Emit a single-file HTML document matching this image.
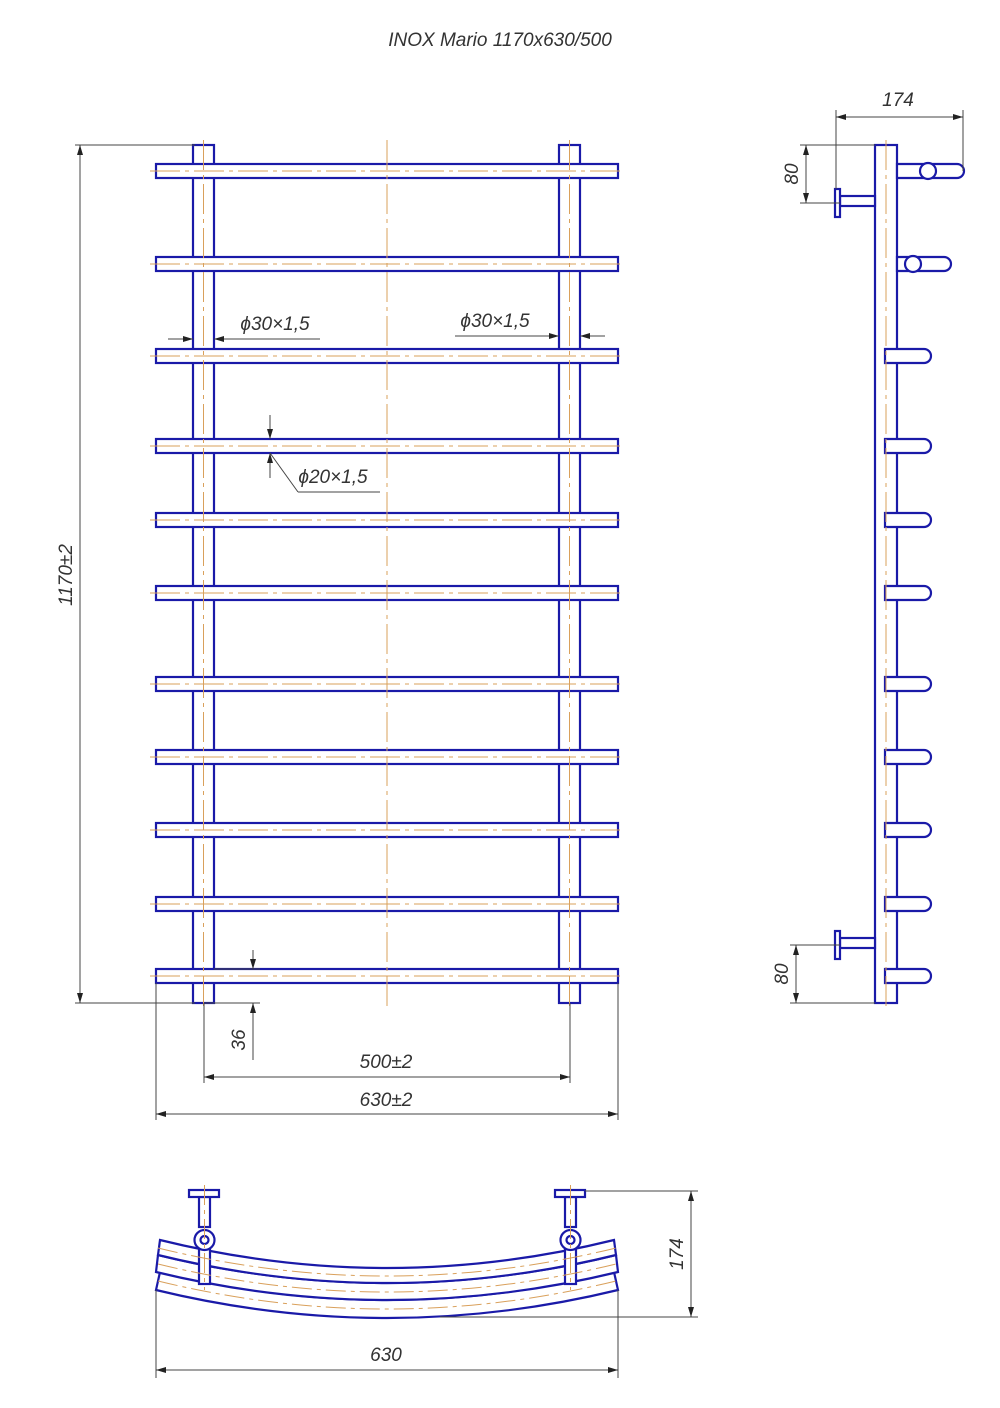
<!DOCTYPE html>
<html><head><meta charset="utf-8"><style>
html,body{margin:0;padding:0;background:#fff;}
svg{display:block;}
text{font-family:"Liberation Sans",sans-serif;font-style:italic;fill:#333;font-size:19px;}
</style></head><body>
<svg width="1000" height="1408" viewBox="0 0 1000 1408" xmlns="http://www.w3.org/2000/svg">
<defs>
<marker id="a" viewBox="0 0 10 6" refX="10" refY="3" markerWidth="10" markerHeight="6" orient="auto-start-reverse"><path d="M0,0L10,3L0,6z" fill="#222"/></marker>
</defs>
<text x="500" y="46" text-anchor="middle" font-size="18">INOX Mario 1170x630/500</text>

<g fill="#fff" stroke="#1a1aa8" stroke-width="2.2">
<rect x="193" y="145" width="21" height="858"/>
<rect x="559" y="145" width="21" height="858"/>
</g>
<g fill="#fff" stroke="#1a1aa8" stroke-width="2.2">
<rect x="156" y="164" width="462" height="14"/>
<rect x="156" y="257" width="462" height="14"/>
<rect x="156" y="349" width="462" height="14"/>
<rect x="156" y="439" width="462" height="14"/>
<rect x="156" y="513" width="462" height="14"/>
<rect x="156" y="586" width="462" height="14"/>
<rect x="156" y="677" width="462" height="14"/>
<rect x="156" y="750" width="462" height="14"/>
<rect x="156" y="823" width="462" height="14"/>
<rect x="156" y="897" width="462" height="14"/>
<rect x="156" y="969" width="462" height="14"/>
</g>
<g stroke="#d9a05b" stroke-width="1" stroke-dasharray="30,5,4,5" fill="none">
<line x1="203.5" y1="140" x2="203.5" y2="1008"/>
<line x1="569.5" y1="140" x2="569.5" y2="1008"/>
<line x1="387" y1="140" x2="387" y2="1008"/>
<line x1="150" y1="171" x2="625" y2="171"/><line x1="150" y1="264" x2="625" y2="264"/>
<line x1="150" y1="356" x2="625" y2="356"/><line x1="150" y1="446" x2="625" y2="446"/>
<line x1="150" y1="520" x2="625" y2="520"/><line x1="150" y1="593" x2="625" y2="593"/>
<line x1="150" y1="684" x2="625" y2="684"/><line x1="150" y1="757" x2="625" y2="757"/>
<line x1="150" y1="830" x2="625" y2="830"/><line x1="150" y1="904" x2="625" y2="904"/>
<line x1="150" y1="976" x2="625" y2="976"/>
</g>
<g stroke="#444" stroke-width="1" fill="none">
<line x1="75" y1="145" x2="195" y2="145"/><line x1="75" y1="1003" x2="195" y2="1003"/>
<line x1="80" y1="145" x2="80" y2="1003" marker-start="url(#a)" marker-end="url(#a)"/>
<line x1="168" y1="339" x2="193" y2="339" marker-end="url(#a)"/><line x1="214" y1="339" x2="320" y2="339" marker-start="url(#a)"/>
<line x1="455" y1="336" x2="559" y2="336" marker-end="url(#a)"/><line x1="580" y1="336" x2="605" y2="336" marker-start="url(#a)"/>
<line x1="270" y1="415" x2="270" y2="439" marker-end="url(#a)"/><line x1="270" y1="478" x2="270" y2="453" marker-end="url(#a)"/>
<line x1="270" y1="453" x2="298" y2="492"/><line x1="298" y1="492" x2="380" y2="492"/>
<line x1="214" y1="969" x2="260" y2="969"/><line x1="204" y1="1003" x2="260" y2="1003"/>
<line x1="253" y1="950" x2="253" y2="969" marker-end="url(#a)"/><line x1="253" y1="1060" x2="253" y2="1003" marker-end="url(#a)"/>
<line x1="204" y1="1003" x2="204" y2="1083"/><line x1="570" y1="1003" x2="570" y2="1083"/>
<line x1="156" y1="983" x2="156" y2="1120"/><line x1="618" y1="983" x2="618" y2="1120"/>
<line x1="204" y1="1077" x2="570" y2="1077" marker-start="url(#a)" marker-end="url(#a)"/>
<line x1="156" y1="1114" x2="618" y2="1114" marker-start="url(#a)" marker-end="url(#a)"/>
</g>
<text transform="translate(72,575) rotate(-90)" text-anchor="middle">1170±2</text>
<text x="275" y="330" text-anchor="middle">ϕ30×1,5</text>
<text x="495" y="327" text-anchor="middle">ϕ30×1,5</text>
<text x="333" y="483" text-anchor="middle">ϕ20×1,5</text>
<text transform="translate(245,1040) rotate(-90)" text-anchor="middle">36</text>
<text x="386" y="1068" text-anchor="middle">500±2</text>
<text x="386" y="1106" text-anchor="middle">630±2</text>

<g fill="#fff" stroke="#1a1aa8" stroke-width="2.2">
<rect x="875" y="145" width="22" height="858"/>
<path d="M897,164H957a7,7 0 0 1 0,14H897z"/><circle cx="928" cy="171" r="8"/>
<path d="M897,257H944a7,7 0 0 1 0,14H897z"/><circle cx="913" cy="264" r="8"/>
<path d="M885,349H924a7,7 0 0 1 0,14H885z"/><path d="M885,439H924a7,7 0 0 1 0,14H885z"/>
<path d="M885,513H924a7,7 0 0 1 0,14H885z"/><path d="M885,586H924a7,7 0 0 1 0,14H885z"/>
<path d="M885,677H924a7,7 0 0 1 0,14H885z"/><path d="M885,750H924a7,7 0 0 1 0,14H885z"/>
<path d="M885,823H924a7,7 0 0 1 0,14H885z"/><path d="M885,897H924a7,7 0 0 1 0,14H885z"/>
<path d="M885,969H924a7,7 0 0 1 0,14H885z"/>
<rect x="840" y="196" width="35" height="10"/><rect x="835" y="189" width="5" height="28"/>
<rect x="840" y="938" width="35" height="10"/><rect x="835" y="931" width="5" height="28"/>
</g>
<g stroke="#d9a05b" stroke-width="1" stroke-dasharray="30,5,4,5"><line x1="886" y1="140" x2="886" y2="1008"/></g>
<g stroke="#444" stroke-width="1" fill="none">
<line x1="836" y1="110" x2="836" y2="189"/><line x1="963" y1="110" x2="963" y2="171"/>
<line x1="836" y1="117" x2="963" y2="117" marker-start="url(#a)" marker-end="url(#a)"/>
<line x1="800" y1="145" x2="875" y2="145"/><line x1="800" y1="203" x2="840" y2="203"/>
<line x1="806" y1="145" x2="806" y2="203" marker-start="url(#a)" marker-end="url(#a)"/>
<line x1="790" y1="945" x2="840" y2="945"/><line x1="790" y1="1003" x2="875" y2="1003"/>
<line x1="796" y1="945" x2="796" y2="1003" marker-start="url(#a)" marker-end="url(#a)"/>
</g>
<text x="898" y="106" text-anchor="middle">174</text>
<text transform="translate(798,174) rotate(-90)" text-anchor="middle">80</text>
<text transform="translate(788,974) rotate(-90)" text-anchor="middle">80</text>

<g fill="#fff" stroke="#1a1aa8" stroke-width="2.2">
<path d="M160,1272 Q387,1328 614,1272 L618,1290 Q387,1346 156,1290z"/>
<path d="M158,1255 Q387,1311 616,1255 L618,1272 Q387,1328 156,1272z"/>
<path d="M160,1240 Q387,1296 614,1240 L616,1255 Q387,1311 158,1255z"/>
<rect x="199" y="1197" width="11" height="30"/><rect x="189" y="1190" width="30" height="7"/>
<rect x="565" y="1197" width="11" height="30"/><rect x="555" y="1190" width="30" height="7"/>
<rect x="199" y="1248" width="11" height="36"/><rect x="565" y="1248" width="11" height="36"/>
<circle cx="204.5" cy="1240" r="10"/><circle cx="204.5" cy="1240" r="4"/>
<circle cx="570.5" cy="1240" r="10"/><circle cx="570.5" cy="1240" r="4"/>
</g>
<g stroke="#d9a05b" stroke-width="1" stroke-dasharray="20,5,4,5" fill="none">
<path d="M158,1248 Q387,1304 616,1248"/><path d="M158,1264 Q387,1320 616,1264"/>
<path d="M158,1281 Q387,1337 616,1281"/>
<line x1="204.5" y1="1185" x2="204.5" y2="1290"/><line x1="570.5" y1="1185" x2="570.5" y2="1290"/>
</g>
<g stroke="#444" stroke-width="1" fill="none">
<line x1="585" y1="1191" x2="698" y2="1191"/><line x1="440" y1="1317" x2="698" y2="1317"/>
<line x1="691" y1="1191" x2="691" y2="1317" marker-start="url(#a)" marker-end="url(#a)"/>
<line x1="156" y1="1290" x2="156" y2="1378"/><line x1="618" y1="1290" x2="618" y2="1378"/>
<line x1="156" y1="1370" x2="618" y2="1370" marker-start="url(#a)" marker-end="url(#a)"/>
</g>
<text transform="translate(683,1254) rotate(-90)" text-anchor="middle">174</text>
<text x="386" y="1361" text-anchor="middle">630</text>
</svg>
</body></html>
